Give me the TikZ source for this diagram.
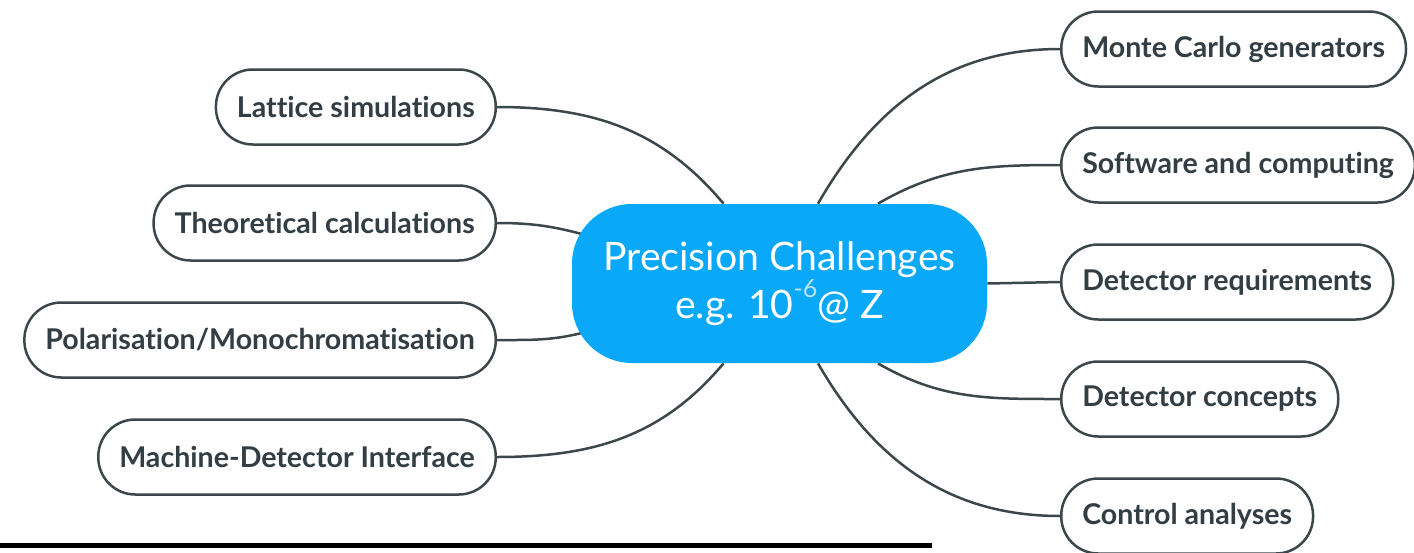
\documentclass[tikz,border=0pt]{standalone}
\usepackage{fontspec}
\setmainfont{Lato}[Ligatures=NoCommon]
\usetikzlibrary{backgrounds}
\definecolor{hubblue}{HTML}{0AA8F9}
\definecolor{supblue}{HTML}{B5E4FB}
\definecolor{edgegray}{HTML}{3C474C}
\definecolor{textgray}{HTML}{323E44}

\begin{document}
\begin{tikzpicture}[
	x = 0.5pt, y = -0.5pt,
	every node/.style = {font=\bfseries\fontsize{14.3}{17}\selectfont, text=textgray},
	topic/.style = {draw=edgegray, line width=1.25pt, rounded corners=18.5pt, minimum height=37.5pt, inner xsep=10.5pt, fill=white},
	hub/.style = {fill=hubblue, rounded corners=30pt, minimum width=207.5pt, minimum height=79.5pt, align=center, text=white, font=\fontsize{19.6}{23}\selectfont},
	link/.style = {draw=edgegray, line width=1.25pt}
	]
	
	\useasboundingbox (0,0) rectangle (1414,552);
	
	% central topic
	\node[hub] (hub) at (779.5,283.5) {Precision Challenges\\e.g. 10\raisebox{0.55em}{\fontsize{12.5}{12}\selectfont\color{supblue}-6}@ Z};
	
	% left branches
	\node[topic, anchor=east] (lattice) at (497,107) {Lattice simulations};
	\node[topic, anchor=east] (theory) at (497,223) {Theoretical calculations};
	\node[topic, anchor=east] (polar) at (497,340) {Polarisation/Monochromatisation};
	\node[topic, anchor=east] (mdi) at (497,457) {Machine-Detector Interface};
	
	% right branches
	\node[topic, anchor=west] (montecarlo) at (1060,49) {Monte Carlo generators};
	\node[topic, anchor=west] (software) at (1060,165) {Software and computing};
	\node[topic, anchor=west] (detreq) at (1060,282) {Detector requirements};
	\node[topic, anchor=west] (detconc) at (1060,399) {Detector concepts};
	\node[topic, anchor=west] (control) at (1060,516) {Control analyses};
	
	% connectors, behind the boxes
	\begin{pgfonlayer}{background}
	\draw[link] (lattice.east) to[out=0, in=130] ([xshift=-28pt]hub.north);
	\draw[link] (theory.east) to[out=0, in=165] ([xshift=8pt, yshift=24pt]hub.west);
	\draw[link] (polar.east) to[out=0, in=195] ([xshift=8pt, yshift=-24pt]hub.west);
	\draw[link] (mdi.east) to[out=0, in=230] ([xshift=-28pt]hub.south);
	\draw[link] (montecarlo.west) to[out=180, in=60] ([xshift=19.25pt]hub.north);
	\draw[link] (software.west) to[out=180, in=30] ([xshift=49.25pt]hub.north);
	\draw[link] (detreq.west) -- (hub.east);
	\draw[link] (detconc.west) to[out=180, in=-30] ([xshift=49.25pt]hub.south);
	\draw[link] (control.west) to[out=180, in=-60] ([xshift=19.25pt]hub.south);
	\end{pgfonlayer}
	
	% bar at the foot
	\fill (0,543) rectangle (932,548);
\end{tikzpicture}
\end{document}
